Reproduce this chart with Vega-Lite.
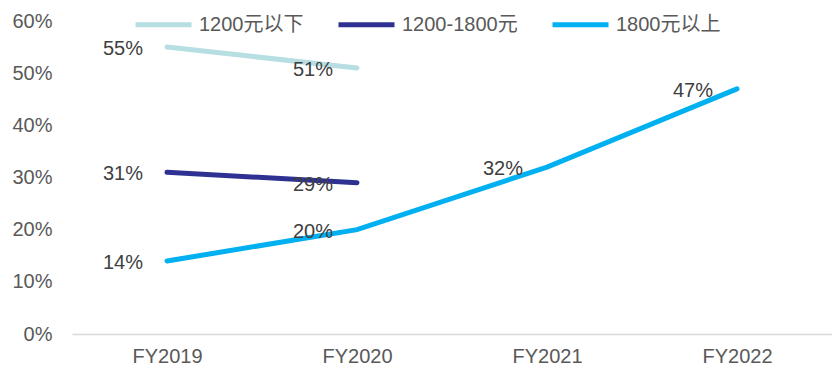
{
  "$schema": "https://vega.github.io/schema/vega-lite/v6.json",
  "width": 760,
  "height": 313,
  "autosize": "none",
  "padding": {"left": 72, "top": 21, "right": 0, "bottom": 34},
  "background": "white",
  "config": {
    "view": {"stroke": null},
    "font": "Liberation Sans, Noto Sans CJK SC, sans-serif"
  },
  "data": {
    "values": [
      {"year": "FY2019", "tier": "1200元以下", "value": 55},
      {"year": "FY2020", "tier": "1200元以下", "value": 51},
      {"year": "FY2019", "tier": "1200-1800元", "value": 31},
      {"year": "FY2020", "tier": "1200-1800元", "value": 29},
      {"year": "FY2019", "tier": "1800元以上", "value": 14},
      {"year": "FY2020", "tier": "1800元以上", "value": 20},
      {"year": "FY2021", "tier": "1800元以上", "value": 32},
      {"year": "FY2022", "tier": "1800元以上", "value": 47}
    ]
  },
  "encoding": {
    "x": {
      "field": "year",
      "type": "ordinal",
      "sort": ["FY2019", "FY2020", "FY2021", "FY2022"],
      "scale": {"type": "point", "padding": 0.5},
      "axis": {
        "title": null,
        "labelAngle": 0,
        "labelFontSize": 20,
        "labelColor": "#595959",
        "labelPadding": 12,
        "ticks": false,
        "domainColor": "#D9D9D9",
        "domainWidth": 1.5,
        "grid": false
      }
    },
    "y": {
      "field": "value",
      "type": "quantitative",
      "scale": {"domain": [0, 60], "nice": false},
      "axis": {
        "title": null,
        "values": [0, 10, 20, 30, 40, 50, 60],
        "labelExpr": "datum.value + '%'",
        "labelFontSize": 20,
        "labelColor": "#595959",
        "labelPadding": 20,
        "ticks": false,
        "domain": false,
        "grid": false
      }
    }
  },
  "layer": [
    {
      "mark": {"type": "line", "strokeWidth": 5, "strokeCap": "round", "interpolate": "linear"},
      "encoding": {
        "color": {
          "field": "tier",
          "type": "nominal",
          "scale": {
            "domain": ["1200元以下", "1200-1800元", "1800元以上"],
            "range": ["#B7DEE3", "#2E3192", "#00B0F0"]
          },
          "legend": {
            "title": null,
            "orient": "none",
            "direction": "horizontal",
            "legendX": 61,
            "legendY": -27,
            "symbolType": "stroke",
            "symbolSize": 3136,
            "symbolStrokeWidth": 5,
            "labelFontSize": 20,
            "labelColor": "#595959",
            "labelOffset": 5,
            "columnPadding": 24,
            "padding": 0
          }
        }
      }
    },
    {
      "mark": {"type": "text", "align": "right", "baseline": "middle", "dx": -24, "dy": 2, "fontSize": 20, "color": "#404040"},
      "encoding": {
        "text": {"value": {"expr": "datum.value + '%'"}}
      }
    }
  ]
}
